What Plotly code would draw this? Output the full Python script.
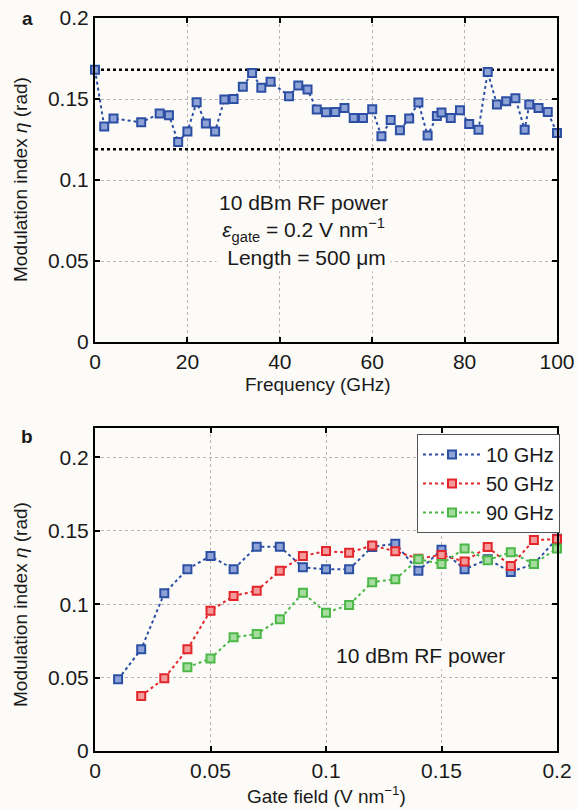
import plotly.graph_objects as go

# ---------------- data ----------------
freq_ghz = [0, 2, 4, 10, 14, 16, 18, 20, 22, 24, 26, 28, 30, 32, 34, 36, 38,
            42, 44, 46, 48, 50, 52, 54, 56, 58, 60, 62, 64, 66, 68, 70, 72,
            74, 75, 77, 79, 81, 83, 85, 87, 89, 91, 93, 94, 96, 98, 100]
eta_freq = [0.168, 0.133, 0.138, 0.1356, 0.141, 0.140, 0.1235, 0.130, 0.148,
            0.1348, 0.130, 0.1497, 0.150, 0.1575, 0.166, 0.157, 0.1606,
            0.1517, 0.1583, 0.1558, 0.1435, 0.1418, 0.142, 0.1445, 0.1383,
            0.1383, 0.1437, 0.127, 0.137, 0.1307, 0.138, 0.1478, 0.1274,
            0.1395, 0.1416, 0.1383, 0.143, 0.1346, 0.131, 0.1666, 0.1466,
            0.1486, 0.1505, 0.131, 0.1466, 0.1445, 0.142, 0.129]
bound_x = [0, 100]
bound_upper = 0.168
bound_lower = 0.119

gate_10 = [0.01, 0.02, 0.03, 0.04, 0.05, 0.06, 0.07, 0.08, 0.09, 0.10,
           0.11, 0.12, 0.13, 0.14, 0.15, 0.16, 0.17, 0.18, 0.19, 0.20]
eta_10 = [0.0488, 0.0693, 0.1074, 0.1238, 0.1328, 0.1238, 0.1392, 0.1392,
          0.1251, 0.1238, 0.1238, 0.139, 0.1412, 0.1228, 0.137, 0.1238,
          0.1306, 0.122, 0.1274, 0.1446]
gate_50 = [0.02, 0.03, 0.04, 0.05, 0.06, 0.07, 0.08, 0.09, 0.10, 0.11,
           0.12, 0.13, 0.14, 0.15, 0.16, 0.17, 0.18, 0.19, 0.20]
eta_50 = [0.0375, 0.0495, 0.0693, 0.0956, 0.1056, 0.1092, 0.1228, 0.1328,
          0.1362, 0.135, 0.140, 0.136, 0.131, 0.1335, 0.129, 0.139, 0.126,
          0.1437, 0.1442]
gate_90 = [0.04, 0.05, 0.06, 0.07, 0.08, 0.09, 0.10, 0.11, 0.12, 0.13,
           0.14, 0.15, 0.16, 0.17, 0.18, 0.19, 0.20]
eta_90 = [0.057, 0.063, 0.0774, 0.0797, 0.0897, 0.1078, 0.0942, 0.0995,
          0.115, 0.117, 0.1306, 0.1274, 0.138, 0.130, 0.1353, 0.1274, 0.138]

freq_ticks = [0, 20, 40, 60, 80, 100]
freq_ticktext = ["0", "20", "40", "60", "80", "100"]
eta_ticks = [0, 0.05, 0.1, 0.15, 0.2]
eta_ticktext = ["0", "0.05", "0.1", "0.15", "0.2"]
gate_ticks = [0, 0.05, 0.1, 0.15, 0.2]
gate_ticktext = ["0", "0.05", "0.1", "0.15", "0.2"]

# ---------------- styling ----------------
W, H = 577, 810
FONT = "Liberation Sans, Arial, sans-serif"
BG = "#fcfbf8"
BLUE, BLUE_F = "#2d4fa3", "#8da2d6"
RED, RED_F = "#e3262b", "#f39a9a"
GREEN, GREEN_F = "#4cb847", "#a6dc9f"

def px_x(p):
    return p / W

def px_y(p):
    return 1 - p / H

fig = go.Figure()

def series(x, y, color, fill, name, xa, ya, showlegend):
    return go.Scatter(
        x=x, y=y, name=name, xaxis=xa, yaxis=ya, mode="lines+markers",
        line=dict(color=color, width=2, dash="dot"),
        marker=dict(symbol="square", size=8, color=fill,
                    line=dict(color=color, width=2)),
        cliponaxis=False, showlegend=showlegend)

# panel a
for yv in (bound_upper, bound_lower):
    fig.add_trace(go.Scatter(x=bound_x, y=[yv, yv], mode="lines",
                             line=dict(color="black", width=2.5, dash="dot"),
                             xaxis="x", yaxis="y", showlegend=False,
                             hoverinfo="skip"))
fig.add_trace(series(freq_ghz, eta_freq, BLUE, BLUE_F, "freq", "x", "y", False))

# panel b
fig.add_trace(series(gate_10, eta_10, BLUE, BLUE_F, "10 GHz", "x2", "y2", True))
fig.add_trace(series(gate_50, eta_50, RED, RED_F, "50 GHz", "x2", "y2", True))
fig.add_trace(series(gate_90, eta_90, GREEN, GREEN_F, "90 GHz", "x2", "y2", True))

axis_common = dict(
    showline=True, linecolor="black", linewidth=2, mirror="ticks",
    ticks="inside", ticklen=5, tickwidth=1.5, tickcolor="black",
    showgrid=True, gridcolor="#b5b5b5", griddash="dot", gridwidth=1,
    zeroline=False, tickfont=dict(family=FONT, size=21, color="#1a1a1a"),
    automargin=False,
)

xdom = [px_x(95), px_x(557)]
fig.update_layout(
    width=W, height=H, margin=dict(l=0, r=0, t=0, b=0),
    paper_bgcolor=BG, plot_bgcolor=BG,
    font=dict(family=FONT, size=19, color="#1a1a1a"),
    xaxis=dict(axis_common, domain=xdom, range=[0, 100], anchor="y",
               tickvals=freq_ticks, ticktext=freq_ticktext),
    yaxis=dict(axis_common, domain=[px_y(342), px_y(18)], range=[0, 0.2],
               anchor="x", tickvals=eta_ticks, ticktext=eta_ticktext),
    xaxis2=dict(axis_common, domain=xdom, range=[0, 0.2], anchor="y2",
                tickvals=gate_ticks, ticktext=gate_ticktext),
    yaxis2=dict(axis_common, domain=[px_y(751), px_y(428)], range=[0, 0.22],
                anchor="x2", tickvals=eta_ticks, ticktext=eta_ticktext),
    legend=dict(x=px_x(560), y=px_y(434), xanchor="right", yanchor="top",
                bgcolor="white", bordercolor="#555555", borderwidth=1,
                font=dict(family=FONT, size=20, color="#1a1a1a"),
                itemwidth=58, tracegroupgap=0),
    showlegend=True,
)

ann = []
def text(x, y, s, size=19, **kw):
    d = dict(x=px_x(x), y=px_y(y), xref="paper", yref="paper", text=s,
             showarrow=False, font=dict(family=FONT, size=size, color="#1a1a1a"),
             xanchor="center", yanchor="middle")
    d.update(kw)
    ann.append(d)

# panel letters
text(27, 18, "<b>a</b>", size=19)
text(27, 436, "<b>b</b>", size=19)
# axis titles
text(20, 180, "Modulation index <i>η</i> (rad)", size=19, textangle=-90)
text(20, 605, "Modulation index <i>η</i> (rad)", size=19, textangle=-90)
text(318, 384, "Frequency (GHz)", size=19)
text(326, 795, "Gate field (V nm<sup>−1</sup>)", size=19)
# in-plot notes
text(303, 230, "10 dBm RF power<br><i>ε</i><sub>gate</sub> = 0.2 V nm<sup>−1</sup><br> Length = 500 μm",
     size=21, bgcolor=BG, borderpad=2)
text(421, 655, "10 dBm RF power", size=21, bgcolor=BG, borderpad=2)

fig.update_layout(annotations=ann)
fig.write_html("out.html",
               config={"displayModeBar": False},
               post_script="document.body.style.margin='0px';"
                           "document.body.style.overflow='hidden';")
